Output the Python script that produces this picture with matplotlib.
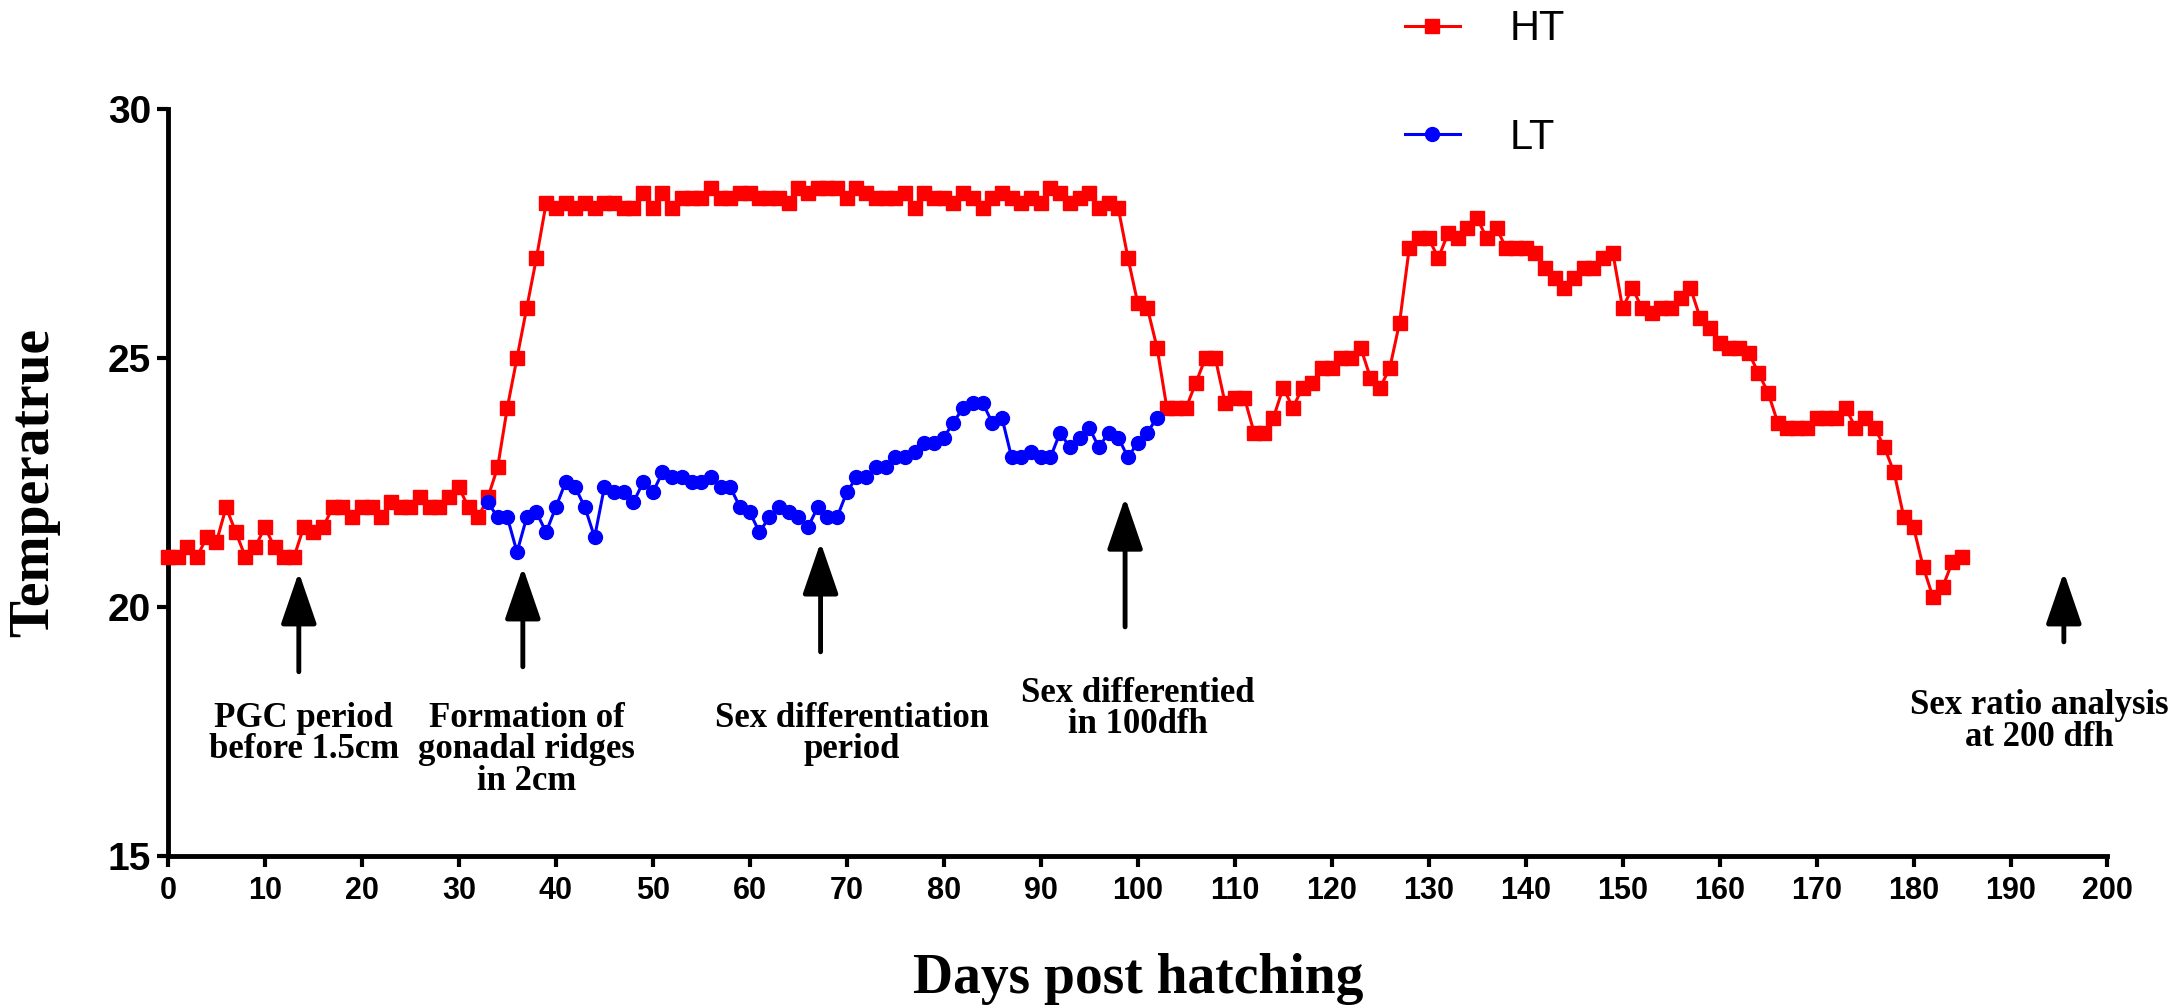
import numpy as np
import matplotlib
matplotlib.use("Agg")
import matplotlib.pyplot as plt

# temperature records, one value per day post hatching
ht_days = list(range(0, 186))
ht_temp = [
    21.0, 21.0, 21.2, 21.0, 21.4, 21.3, 22.0, 21.5, 21.0, 21.2,
    21.6, 21.2, 21.0, 21.0, 21.6, 21.5, 21.6, 22.0, 22.0, 21.8,
    22.0, 22.0, 21.8, 22.1, 22.0, 22.0, 22.2, 22.0, 22.0, 22.2,
    22.4, 22.0, 21.8, 22.2, 22.8, 24.0, 25.0, 26.0, 27.0, 28.1,
    28.0, 28.1, 28.0, 28.1, 28.0, 28.1, 28.1, 28.0, 28.0, 28.3,
    28.0, 28.3, 28.0, 28.2, 28.2, 28.2, 28.4, 28.2, 28.2, 28.3,
    28.3, 28.2, 28.2, 28.2, 28.1, 28.4, 28.3, 28.4, 28.4, 28.4,
    28.2, 28.4, 28.3, 28.2, 28.2, 28.2, 28.3, 28.0, 28.3, 28.2,
    28.2, 28.1, 28.3, 28.2, 28.0, 28.2, 28.3, 28.2, 28.1, 28.2,
    28.1, 28.4, 28.3, 28.1, 28.2, 28.3, 28.0, 28.1, 28.0, 27.0,
    26.1, 26.0, 25.2, 24.0, 24.0, 24.0, 24.5, 25.0, 25.0, 24.1,
    24.2, 24.2, 23.5, 23.5, 23.8, 24.4, 24.0, 24.4, 24.5, 24.8,
    24.8, 25.0, 25.0, 25.2, 24.6, 24.4, 24.8, 25.7, 27.2, 27.4,
    27.4, 27.0, 27.5, 27.4, 27.6, 27.8, 27.4, 27.6, 27.2, 27.2,
    27.2, 27.1, 26.8, 26.6, 26.4, 26.6, 26.8, 26.8, 27.0, 27.1,
    26.0, 26.4, 26.0, 25.9, 26.0, 26.0, 26.2, 26.4, 25.8, 25.6,
    25.3, 25.2, 25.2, 25.1, 24.7, 24.3, 23.7, 23.6, 23.6, 23.6,
    23.8, 23.8, 23.8, 24.0, 23.6, 23.8, 23.6, 23.2, 22.7, 21.8,
    21.6, 20.8, 20.2, 20.4, 20.9, 21.0,
]

lt_days = list(range(33, 103))
lt_temp = [
    22.1, 21.8, 21.8, 21.1, 21.8, 21.9, 21.5, 22.0, 22.5, 22.4,
    22.0, 21.4, 22.4, 22.3, 22.3, 22.1, 22.5, 22.3, 22.7, 22.6,
    22.6, 22.5, 22.5, 22.6, 22.4, 22.4, 22.0, 21.9, 21.5, 21.8,
    22.0, 21.9, 21.8, 21.6, 22.0, 21.8, 21.8, 22.3, 22.6, 22.6,
    22.8, 22.8, 23.0, 23.0, 23.1, 23.3, 23.3, 23.4, 23.7, 24.0,
    24.1, 24.1, 23.7, 23.8, 23.0, 23.0, 23.1, 23.0, 23.0, 23.5,
    23.2, 23.4, 23.6, 23.2, 23.5, 23.4, 23.0, 23.3, 23.5, 23.8,
]

# developmental stage markers
stage_days = [13.5, 36.6, 67.3, 98.7, 195.5]
stage_arrow_from = [18.7, 18.8, 19.1, 19.6, 19.3]
stage_arrow_to = [20.7, 20.8, 21.3, 22.2, 20.7]
stage_text_x = [14.0, 37.0, 70.5, 100.0, 206.3]
stage_text_y = [18.1, 18.1, 18.1, 18.6, 18.35]
stage_text_ha = ["center", "center", "center", "center", "right"]
stage_labels = [
    "PGC period\nbefore 1.5cm",
    "Formation of\ngonadal ridges\nin 2cm",
    "Sex differentiation\nperiod",
    "Sex differentied\nin 100dfh",
    "Sex ratio analysis\nat 200 dfh",
]

x_ticks = list(range(0, 201, 10))
y_ticks = [15, 20, 25, 30]

sans = ["Liberation Sans", "DejaVu Sans"]
serif = ["Liberation Serif", "DejaVu Serif"]

fig = plt.figure(figsize=(21.72, 10.06), dpi=100)
ax = fig.add_axes([0.0773, 0.149, 0.893, 0.743])

ax.plot(ht_days, ht_temp, color="#ff0000", lw=2.2, marker="s", ms=10,
        label="HT", clip_on=False, zorder=3)
ax.plot(lt_days, lt_temp, color="#0000ff", lw=2.2, marker="o", ms=10,
        label="LT", clip_on=False, zorder=4)

for d, y0, y1 in zip(stage_days, stage_arrow_from, stage_arrow_to):
    ax.annotate("", xy=(d, y1), xytext=(d, y0),
                arrowprops=dict(arrowstyle="-|>,head_length=3.2,head_width=1.1",
                                mutation_scale=10, lw=3.5, color="black",
                                shrinkA=0, shrinkB=0))

for tx, ty, ha, s in zip(stage_text_x, stage_text_y, stage_text_ha, stage_labels):
    ax.text(tx, ty, s, ha=ha, va="top", multialignment="center",
            fontsize=25, fontweight="bold", family=serif, linespacing=0.95,
            clip_on=False)

ax.set_xlim(0, 200)
ax.set_ylim(15, 30)
ax.set_xticks(x_ticks)
ax.set_yticks(y_ticks)

for side in ["top", "right"]:
    ax.spines[side].set_visible(False)
for side in ["left", "bottom"]:
    ax.spines[side].set_linewidth(3.5)

ax.tick_params(axis="both", direction="out", length=8, width=3)
ax.tick_params(axis="x", labelsize=22, pad=6)
ax.tick_params(axis="y", labelsize=28, pad=4)
for lab in ax.get_xticklabels() + ax.get_yticklabels():
    lab.set_fontweight("bold")
    lab.set_family(sans)

ax.set_xlabel("Days post hatching", fontsize=40, fontweight="bold",
              family=serif, labelpad=34)
ax.set_ylabel("Temperatrue", fontsize=40, fontweight="bold",
              family=serif, labelpad=34)

leg = ax.legend(loc="upper left", bbox_to_anchor=(0.638, 1.133), frameon=False,
                prop=dict(family=sans, size=30), handlelength=1.3,
                handletextpad=1.2, labelspacing=1.65, borderpad=0,
                borderaxespad=0, numpoints=1)

fig.savefig("out.png", dpi=100)
